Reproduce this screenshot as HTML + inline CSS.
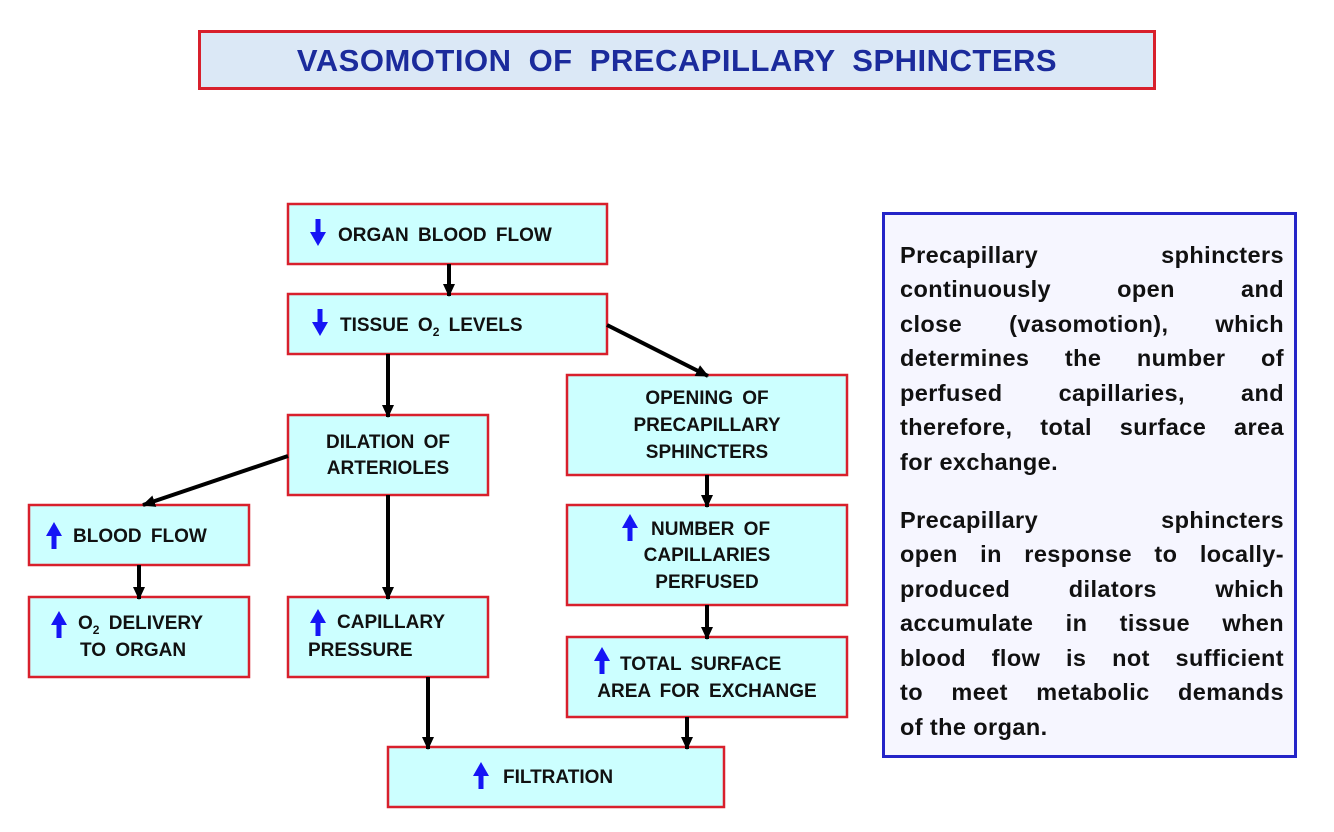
<!DOCTYPE html>
<html><head><meta charset="utf-8"><style>
body{margin:0;width:1334px;height:832px;background:#fff;overflow:hidden;position:relative;font-family:"Liberation Sans",Arial,Helvetica,sans-serif}
.title{position:absolute;left:198px;top:30px;width:952px;height:54px;border:3px solid #d8202c;background:#dbe8f6;color:#1b2b9c;font-weight:bold;font-size:31px;text-align:center;line-height:56px;word-spacing:8px;letter-spacing:0.5px}
.side{position:absolute;left:882px;top:212px;width:409px;height:540px;border:3px solid #2424c8;background:#f6f6ff}
.ln{position:absolute;left:15px;width:384px;font-weight:bold;font-size:23.5px;text-align:justify;text-align-last:justify;color:#111;white-space:nowrap;letter-spacing:0.4px}
.ln.l{text-align-last:left}
</style></head><body>
<div class="title">VASOMOTION OF PRECAPILLARY SPHINCTERS</div>
<svg width="1334" height="832" style="position:absolute;left:0;top:0">
<defs>
<marker id="a" viewBox="0 0 14 14" markerWidth="14" markerHeight="14" refX="12" refY="7" orient="auto" markerUnits="userSpaceOnUse"><path d="M0,1 L13,7 L0,13 Z" fill="#000"/></marker>
<g id="up"><path d="M0,-13 L-8,1 L-2.5,1 L-2.5,14 L2.5,14 L2.5,1 L8,1 Z" fill="#1515f5"/></g>
<g id="dn"><path d="M0,13 L-8,-1 L-2.5,-1 L-2.5,-14 L2.5,-14 L2.5,-1 L8,-1 Z" fill="#1515f5"/></g>
</defs>
<g fill="#ccffff" stroke="#d8202c" stroke-width="2.5">
<rect x="288" y="204" width="319" height="60"/>
<rect x="288" y="294" width="319" height="60"/>
<rect x="567" y="375" width="280" height="100"/>
<rect x="288" y="415" width="200" height="80"/>
<rect x="29" y="505" width="220" height="60"/>
<rect x="29" y="597" width="220" height="80"/>
<rect x="288" y="597" width="200" height="80"/>
<rect x="567" y="505" width="280" height="100"/>
<rect x="567" y="637" width="280" height="80"/>
<rect x="388" y="747" width="336" height="60"/>
</g>
<g stroke="#000" stroke-width="4" marker-end="url(#a)">
<line x1="449" y1="264" x2="449" y2="296"/>
<line x1="607" y1="325" x2="708" y2="376"/>
<line x1="388" y1="354" x2="388" y2="417"/>
<line x1="288" y1="456" x2="143" y2="505"/>
<line x1="139" y1="565" x2="139" y2="599"/>
<line x1="388" y1="495" x2="388" y2="599"/>
<line x1="707" y1="475" x2="707" y2="507"/>
<line x1="707" y1="605" x2="707" y2="639"/>
<line x1="428" y1="677" x2="428" y2="749"/>
<line x1="687" y1="717" x2="687" y2="749"/>
</g>
<use href="#dn" x="318" y="233"/>
<use href="#dn" x="320" y="323"/>
<use href="#up" x="54" y="535"/>
<use href="#up" x="59" y="624"/>
<use href="#up" x="318" y="622"/>
<use href="#up" x="630" y="527"/>
<use href="#up" x="602" y="660"/>
<use href="#up" x="481" y="775"/>
<g font-family="'Liberation Sans',Arial,Helvetica,sans-serif" font-weight="bold" font-size="19" fill="#111" word-spacing="4">
<text x="338" y="241">ORGAN BLOOD FLOW</text>
<text x="340" y="331">TISSUE O<tspan font-size="12" dy="5">2</tspan><tspan dy="-5"> LEVELS</tspan></text>
<text x="707" y="404" text-anchor="middle">OPENING OF</text>
<text x="707" y="431" text-anchor="middle">PRECAPILLARY</text>
<text x="707" y="458" text-anchor="middle">SPHINCTERS</text>
<text x="388" y="448" text-anchor="middle">DILATION OF</text>
<text x="388" y="474" text-anchor="middle">ARTERIOLES</text>
<text x="73" y="542">BLOOD FLOW</text>
<text x="78" y="629">O<tspan font-size="12" dy="5">2</tspan><tspan dy="-5"> DELIVERY</tspan></text>
<text x="80" y="656">TO ORGAN</text>
<text x="337" y="628">CAPILLARY</text>
<text x="308" y="656">PRESSURE</text>
<text x="651" y="535">NUMBER OF</text>
<text x="707" y="561" text-anchor="middle">CAPILLARIES</text>
<text x="707" y="588" text-anchor="middle">PERFUSED</text>
<text x="620" y="670">TOTAL SURFACE</text>
<text x="707" y="697" text-anchor="middle">AREA FOR EXCHANGE</text>
<text x="503" y="783">FILTRATION</text>
</g>
</svg>
<div class="side">
<div class="ln" style="top:27px">Precapillary sphincters</div>
<div class="ln" style="top:61px">continuously open and</div>
<div class="ln" style="top:96px">close (vasomotion), which</div>
<div class="ln" style="top:130px">determines the number of</div>
<div class="ln" style="top:165px">perfused capillaries, and</div>
<div class="ln" style="top:199px">therefore, total surface area</div>
<div class="ln l" style="top:234px">for exchange.</div>
<div class="ln" style="top:292px">Precapillary sphincters</div>
<div class="ln" style="top:326px">open in response to locally-</div>
<div class="ln" style="top:361px">produced dilators which</div>
<div class="ln" style="top:395px">accumulate in tissue when</div>
<div class="ln" style="top:430px">blood flow is not sufficient</div>
<div class="ln" style="top:464px">to meet metabolic demands</div>
<div class="ln l" style="top:499px">of the organ.</div>
</div>
</body></html>
